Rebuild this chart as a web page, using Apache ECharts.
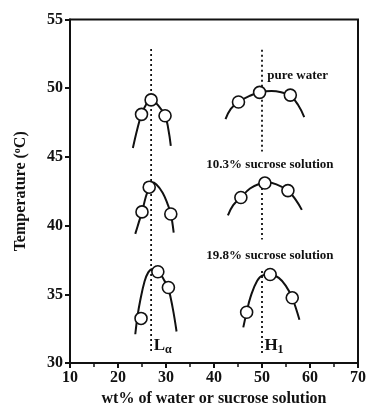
<!DOCTYPE html>
<html>
<head>
<meta charset="utf-8">
<script src="https://cdn.jsdelivr.net/npm/echarts@6/dist/echarts.min.js"></script>
<style>
html,body{margin:0;padding:0;background:#fff;}
#chart{width:369px;height:412px;}
</style>
</head>
<body>
<div id="chart"></div>
<script>
// ---- data ----
var xTicks = [10, 20, 30, 40, 50, 60, 70];
var yTicks = [30, 35, 40, 45, 50, 55];

// measured points (open circles)
var pureLaPts = [[24.9, 48.1], [26.9, 49.15], [29.8, 48.0]];
var pureH1Pts = [[45.1, 49.0], [49.5, 49.7], [55.9, 49.5]];
var s103LaPts = [[25.0, 41.0], [26.5, 42.8], [31.0, 40.85]];
var s103H1Pts = [[45.6, 42.05], [50.6, 43.1], [55.4, 42.55]];
var s198LaPts = [[24.8, 33.25], [28.3, 36.65], [30.5, 35.5]];
var s198H1Pts = [[46.8, 33.7], [51.7, 36.45], [56.3, 34.75]];

// fitted boundary curves
var pureLaCurve = [[23.1, 45.65], [24.0, 47.0], [24.9, 48.1], [26.0, 48.9], [26.9, 49.25], [28.0, 48.9], [29.8, 48.0], [30.5, 47.0], [31.0, 45.8]];
var pureH1Curve = [[42.4, 47.75], [43.5, 48.5], [45.1, 49.0], [47.5, 49.45], [49.5, 49.7], [52.0, 49.8], [54.0, 49.7], [55.9, 49.45], [57.5, 48.8], [58.8, 47.9]];
var s103LaCurve = [[23.6, 39.4], [24.3, 40.2], [25.0, 41.0], [25.8, 42.1], [26.5, 42.8], [27.0, 43.15], [28.0, 43.0], [29.3, 42.4], [30.3, 41.6], [31.0, 40.85], [31.6, 39.5]];
var s103H1Curve = [[42.9, 40.75], [44.0, 41.5], [45.6, 42.05], [47.5, 42.7], [49.5, 43.05], [51.0, 43.15], [53.0, 43.0], [55.4, 42.55], [57.0, 41.9], [58.3, 41.15]];
var s198LaCurve = [[23.6, 32.1], [24.1, 33.5], [24.6, 34.5], [25.5, 35.9], [26.3, 36.6], [27.2, 36.85], [28.3, 36.7], [29.5, 36.1], [30.5, 35.4], [31.4, 34.0], [32.2, 32.3]];
var s198H1Curve = [[46.1, 32.6], [46.8, 33.7], [47.6, 34.8], [49.0, 36.0], [50.3, 36.4], [51.7, 36.45], [53.5, 36.2], [55.0, 35.6], [56.3, 34.75], [57.8, 33.15]];

// dotted phase guides
var laGuide = [[26.9, 52.85], [26.9, 30.7]];
var h1GuideA = [[50, 52.8], [50, 45.4]];
var h1GuideB = [[50, 43.1], [50, 39.0]];
var h1GuideC = [[50, 36.7], [50, 30.6]];

// text labels
var curveLabels = ['pure water', '10.3% sucrose solution', '19.8% sucrose solution'];
var phaseLabels = ['L', 'α', 'H', '1'];
var xTitle = 'wt% of water or sucrose solution';
var yTitle = 'Temperature (';

// ---- chart ----
var FONT = '"Liberation Serif","Times New Roman",serif';
var INK = '#111';

var chart = echarts.init(document.getElementById('chart'), null, {renderer: 'canvas'});

function curve(d) {
  return {type: 'line', data: d, smooth: 0.4, showSymbol: false, symbol: 'none',
    lineStyle: {color: INK, width: 2}, z: 3, silent: true};
}
function pts(d) {
  return {type: 'scatter', data: d, symbol: 'circle', symbolSize: 12,
    itemStyle: {color: '#fff', borderColor: INK, borderWidth: 1.6, opacity: 1}, z: 5, silent: true};
}
function guide(d) {
  return {type: 'line', data: d, showSymbol: false, symbol: 'none',
    lineStyle: {color: INK, width: 1.8, type: [2, 3]}, z: 2, silent: true};
}
function textAt(coord, txt, extra) {
  return {type: 'scatter', data: [{value: coord}], symbolSize: 0, z: 6, silent: true,
    itemStyle: {opacity: 1, color: INK},
    label: Object.assign({show: true, position: 'inside', formatter: txt, align: 'left', verticalAlign: 'middle',
      fontFamily: FONT, fontWeight: 'bold', fontSize: 13, color: INK, opacity: 1, offset: [0, 0]}, extra || {})};
}

var option = {
  animation: false,
  backgroundColor: '#fff',
  grid: {left: 70, right: 8, top: 19.5, bottom: 45.3, show: true, borderColor: INK, borderWidth: 2, backgroundColor: 'transparent'},
  xAxis: {
    type: 'value', min: xTicks[0], max: xTicks[xTicks.length - 1], interval: 10,
    name: xTitle, nameLocation: 'middle', nameGap: 24,
    nameTextStyle: {fontFamily: FONT, fontWeight: 'bold', fontSize: 16, color: INK},
    axisLine: {show: true, lineStyle: {color: INK, width: 2}},
    axisTick: {show: true, length: 5, lineStyle: {color: INK, width: 2}},
    minorTick: {show: true, splitNumber: 2, length: 4, lineStyle: {color: INK, width: 1.5}},
    splitLine: {show: false},
    axisLabel: {margin: 7, fontFamily: FONT, fontWeight: 'bold', fontSize: 16, color: INK}
  },
  yAxis: {
    type: 'value', min: yTicks[0], max: yTicks[yTicks.length - 1], interval: 5,
    name: yTitle + '{sup|o}C)', nameLocation: 'middle', nameGap: 40, nameRotate: 90,
    nameTextStyle: {fontFamily: FONT, fontWeight: 'bold', fontSize: 16, color: INK,
      rich: {sup: {fontFamily: FONT, fontWeight: 'bold', fontSize: 10, color: INK, verticalAlign: 'top', padding: [0, 0, 8, 0]}}},
    axisLine: {show: true, lineStyle: {color: INK, width: 2}},
    axisTick: {show: true, length: 5, lineStyle: {color: INK, width: 2}},
    splitLine: {show: false},
    axisLabel: {margin: 7, fontFamily: FONT, fontWeight: 'bold', fontSize: 16, color: INK}
  },
  series: [
    guide(laGuide), guide(h1GuideA), guide(h1GuideB), guide(h1GuideC),
    curve(pureLaCurve), curve(pureH1Curve), curve(s103LaCurve), curve(s103H1Curve), curve(s198LaCurve), curve(s198H1Curve),
    pts(pureLaPts), pts(pureH1Pts), pts(s103LaPts), pts(s103H1Pts), pts(s198LaPts), pts(s198H1Pts),
    textAt([51.1, 50.95], curveLabels[0]),
    textAt([38.4, 44.45], curveLabels[1]),
    textAt([38.4, 37.8], curveLabels[2]),
    textAt([27.45, 31.24], '{b|' + phaseLabels[0] + '}{s|' + phaseLabels[1] + '}', {
      rich: {b: {fontFamily: FONT, fontWeight: 'bold', fontSize: 17, color: INK},
             s: {fontFamily: FONT, fontWeight: 'bold', fontSize: 12, color: INK, padding: [7, 0, 0, 0]}}}),
    textAt([50.5, 31.24], '{b|' + phaseLabels[2] + '}{s|' + phaseLabels[3] + '}', {
      rich: {b: {fontFamily: FONT, fontWeight: 'bold', fontSize: 17, color: INK},
             s: {fontFamily: FONT, fontWeight: 'bold', fontSize: 12, color: INK, padding: [7, 0, 0, 0]}}})
  ]
};
chart.setOption(option);
</script>
</body>
</html>
